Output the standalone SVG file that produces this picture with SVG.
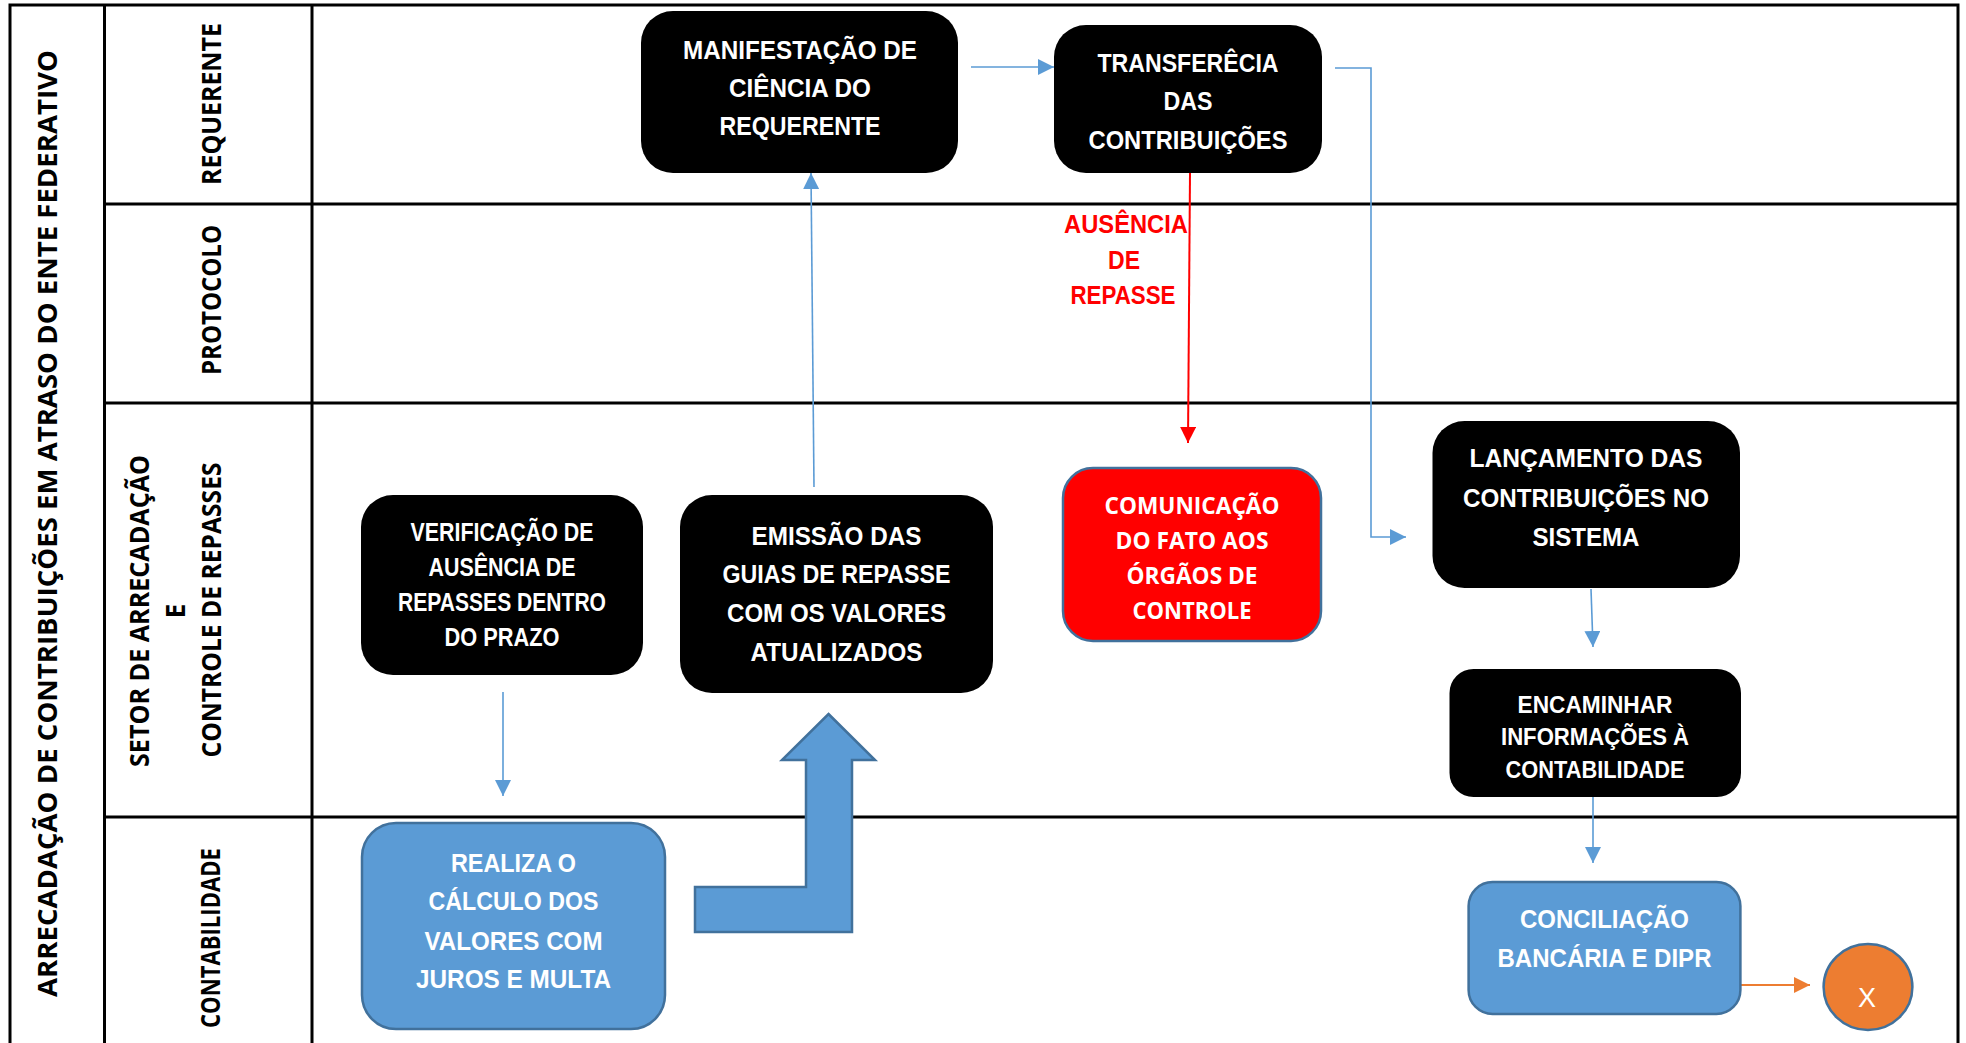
<svg xmlns="http://www.w3.org/2000/svg" width="1966" height="1043" viewBox="0 0 1966 1043">
<style>
.grid{stroke:#000;stroke-width:3;fill:none}
.lane{font-family:"Open Sans","DejaVu Sans",sans-serif;font-weight:bold;font-size:26px;fill:#000;text-anchor:middle}
.bx{font-family:"Liberation Sans",Arial,sans-serif;font-weight:bold;font-size:26px;fill:#fff;text-anchor:middle}
.blk{fill:#000}
.blue{fill:#5b9bd5;stroke:#41719c;stroke-width:2.5}
.red{fill:#ff0000;stroke:#41719c;stroke-width:2.5}
.cb{stroke:#5b9bd5;stroke-width:1.6;fill:none}
.cr{stroke:#ff0000;stroke-width:2;fill:none}
.co{stroke:#ed7d31;stroke-width:2;fill:none}
.lbl{font-family:"Liberation Sans",Arial,sans-serif;font-weight:bold;font-size:26px;fill:#ff0000;text-anchor:middle}
</style>
<defs>
<marker id="ab" markerUnits="userSpaceOnUse" viewBox="0 0 16 16" markerWidth="16" markerHeight="16" refX="16" refY="8" orient="auto"><path d="M0,0L16,8L0,16z" fill="#5b9bd5"/></marker>
<marker id="ar" markerUnits="userSpaceOnUse" viewBox="0 0 16 16" markerWidth="16" markerHeight="16" refX="16" refY="8" orient="auto"><path d="M0,0L16,8L0,16z" fill="#ff0000"/></marker>
<marker id="ao" markerUnits="userSpaceOnUse" viewBox="0 0 16 16" markerWidth="16" markerHeight="16" refX="16" refY="8" orient="auto"><path d="M0,0L16,8L0,16z" fill="#ed7d31"/></marker>
</defs>
<rect x="0" y="0" width="1966" height="1043" fill="#fff"/>
<g id="grid">
<path class="grid" d="M10,1043V5H1958V1043M104.5,5V1043M312,5V1043M104.5,204H1958M104.5,403H1958M104.5,817H1958"/>
</g>
<g id="lanes">
<text class="lane" font-size="28" transform="translate(57,523.5) rotate(-90)" textLength="947" lengthAdjust="spacingAndGlyphs">ARRECADAÇÃO DE CONTRIBUIÇÕES EM ATRASO DO ENTE FEDERATIVO</text>
<text class="lane" transform="translate(221,104) rotate(-90)" textLength="162" lengthAdjust="spacingAndGlyphs">REQUERENTE</text>
<text class="lane" transform="translate(221,300) rotate(-90)" textLength="150" lengthAdjust="spacingAndGlyphs">PROTOCOLO</text>
<text class="lane" transform="translate(149,611) rotate(-90)" textLength="312" lengthAdjust="spacingAndGlyphs">SETOR DE ARRECADAÇÃO</text>
<text class="lane" transform="translate(185,611) rotate(-90)">E</text>
<text class="lane" transform="translate(221,610) rotate(-90)" textLength="295" lengthAdjust="spacingAndGlyphs">CONTROLE DE REPASSES</text>
<text class="lane" transform="translate(220,938) rotate(-90)" textLength="180" lengthAdjust="spacingAndGlyphs">CONTABILIDADE</text>
</g>
<g id="connectors">
<path class="cb" d="M971,67H1054" marker-end="url(#ab)"/>
<path class="cb" d="M814,487L811,173" marker-end="url(#ab)"/>
<path class="cr" d="M1190,173L1188,443" marker-end="url(#ar)"/>
<path class="cb" d="M503,692V796" marker-end="url(#ab)"/>
<path class="cb" d="M1335,68H1371V537H1406" marker-end="url(#ab)"/>
<path class="cb" d="M1591,589L1593,647" marker-end="url(#ab)"/>
<path class="cb" d="M1593,797V863" marker-end="url(#ab)"/>
<path class="co" d="M1741,985H1810" marker-end="url(#ao)"/>
<g id="label-ausencia">
<text class="lbl" x="1126" y="233" textLength="124" lengthAdjust="spacingAndGlyphs">AUSÊNCIA</text>
<text class="lbl" x="1124" y="269" textLength="32" lengthAdjust="spacingAndGlyphs">DE</text>
<text class="lbl" x="1123" y="304" textLength="105" lengthAdjust="spacingAndGlyphs">REPASSE</text>
</g>
</g>
<g id="bent-arrow">
<polygon class="blue" stroke-width="2" points="828.5,714 875,760 852,760 852,932 695,932 695,887 806,887 806,760 782,760"/>
</g>
<g id="manifestacao">
<rect class="blk" x="641" y="11" width="317" height="162" rx="32"/>
<text class="bx" x="800" y="59" textLength="234" lengthAdjust="spacingAndGlyphs">MANIFESTAÇÃO DE</text>
<text class="bx" x="800" y="97" textLength="142" lengthAdjust="spacingAndGlyphs">CIÊNCIA DO</text>
<text class="bx" x="800" y="135" textLength="161" lengthAdjust="spacingAndGlyphs">REQUERENTE</text>
</g>
<g id="transferencia">
<rect class="blk" x="1054" y="25" width="268" height="148" rx="32"/>
<text class="bx" x="1188" y="72" textLength="181" lengthAdjust="spacingAndGlyphs">TRANSFERÊCIA</text>
<text class="bx" x="1188" y="110" textLength="49" lengthAdjust="spacingAndGlyphs">DAS</text>
<text class="bx" x="1188" y="149" textLength="199" lengthAdjust="spacingAndGlyphs">CONTRIBUIÇÕES</text>
</g>
<g id="verificacao">
<rect class="blk" x="361" y="495" width="282" height="180" rx="32"/>
<text class="bx" x="502" y="541" textLength="183" lengthAdjust="spacingAndGlyphs">VERIFICAÇÃO DE</text>
<text class="bx" x="502" y="576" textLength="147" lengthAdjust="spacingAndGlyphs">AUSÊNCIA DE</text>
<text class="bx" x="502" y="611" textLength="208" lengthAdjust="spacingAndGlyphs">REPASSES DENTRO</text>
<text class="bx" x="502" y="646" textLength="115" lengthAdjust="spacingAndGlyphs">DO PRAZO</text>
</g>
<g id="emissao">
<rect class="blk" x="680" y="495" width="313" height="198" rx="32"/>
<text class="bx" x="836.5" y="545" textLength="170" lengthAdjust="spacingAndGlyphs">EMISSÃO DAS</text>
<text class="bx" x="836.5" y="583" textLength="228" lengthAdjust="spacingAndGlyphs">GUIAS DE REPASSE</text>
<text class="bx" x="836.5" y="622" textLength="219" lengthAdjust="spacingAndGlyphs">COM OS VALORES</text>
<text class="bx" x="836.5" y="661" textLength="172" lengthAdjust="spacingAndGlyphs">ATUALIZADOS</text>
</g>
<g id="comunicacao">
<rect class="red" x="1063" y="468" width="258" height="173" rx="30"/>
<text class="bx" style="font-family:'Open Sans',sans-serif;font-size:23px" x="1192" y="514" textLength="175" lengthAdjust="spacingAndGlyphs">COMUNICAÇÃO</text>
<text class="bx" style="font-family:'Open Sans',sans-serif;font-size:23px" x="1192" y="549" textLength="153" lengthAdjust="spacingAndGlyphs">DO FATO AOS</text>
<text class="bx" style="font-family:'Open Sans',sans-serif;font-size:23px" x="1192" y="584" textLength="131" lengthAdjust="spacingAndGlyphs">ÓRGÃOS DE</text>
<text class="bx" style="font-family:'Open Sans',sans-serif;font-size:23px" x="1192" y="619" textLength="119" lengthAdjust="spacingAndGlyphs">CONTROLE</text>
</g>
<g id="lancamento">
<rect class="blk" x="1432.5" y="421" width="307.5" height="167" rx="32"/>
<text class="bx" x="1586" y="467" textLength="233" lengthAdjust="spacingAndGlyphs">LANÇAMENTO DAS</text>
<text class="bx" x="1586" y="507" textLength="246" lengthAdjust="spacingAndGlyphs">CONTRIBUIÇÕES NO</text>
<text class="bx" x="1586" y="546" textLength="107" lengthAdjust="spacingAndGlyphs">SISTEMA</text>
</g>
<g id="encaminhar">
<rect class="blk" x="1449.5" y="669" width="291.5" height="128" rx="24"/>
<text class="bx" style="font-size:23px" x="1595" y="713" textLength="155" lengthAdjust="spacingAndGlyphs">ENCAMINHAR</text>
<text class="bx" style="font-size:23px" x="1595" y="745" textLength="188" lengthAdjust="spacingAndGlyphs">INFORMAÇÕES À</text>
<text class="bx" style="font-size:23px" x="1595" y="778" textLength="179" lengthAdjust="spacingAndGlyphs">CONTABILIDADE</text>
</g>
<g id="realiza">
<rect class="blue" x="362" y="823" width="303" height="206" rx="34"/>
<text class="bx" x="513.5" y="872" textLength="125" lengthAdjust="spacingAndGlyphs">REALIZA O</text>
<text class="bx" x="513.5" y="910" textLength="170" lengthAdjust="spacingAndGlyphs">CÁLCULO DOS</text>
<text class="bx" x="513.5" y="950" textLength="178" lengthAdjust="spacingAndGlyphs">VALORES COM</text>
<text class="bx" x="513.5" y="988" textLength="195" lengthAdjust="spacingAndGlyphs">JUROS E MULTA</text>
</g>
<g id="conciliacao">
<rect class="blue" x="1468.6" y="882" width="271.8" height="132" rx="24"/>
<text class="bx" x="1604.5" y="928" textLength="169" lengthAdjust="spacingAndGlyphs">CONCILIAÇÃO</text>
<text class="bx" x="1604.5" y="967" textLength="214" lengthAdjust="spacingAndGlyphs">BANCÁRIA E DIPR</text>
</g>
<g id="fim">
<ellipse cx="1868" cy="987" rx="44.4" ry="43" fill="#ed7d31" stroke="#41719c" stroke-width="2.5"/>
<text x="1867" y="1007" style="font-family:'Liberation Sans',Arial,sans-serif;font-size:27px;fill:#fff;text-anchor:middle">X</text>
</g>
</svg>
